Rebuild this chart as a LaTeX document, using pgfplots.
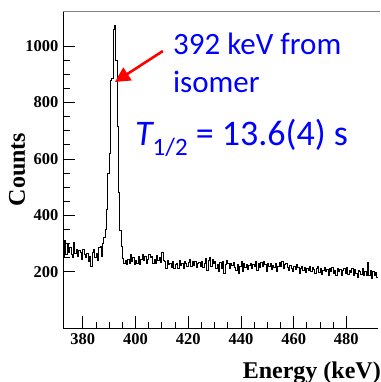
\documentclass[border=0pt]{standalone}
\usepackage{fontspec}
\setmainfont{Liberation Serif}
\newfontfamily\carlito{Carlito}
\usepackage{pgfplots}
\pgfplotsset{compat=1.18}
\usetikzlibrary{arrows.meta}
\definecolor{annblue}{RGB}{0,0,255}
\begin{document}
\begin{tikzpicture}
\begin{axis}[
  scale only axis,
  width=315pt, height=317pt,
  xmin=372.5, xmax=492, ymin=0, ymax=1125,
  axis x line*=bottom, axis y line*=left,
  axis line style={line width=0.9pt, -},
  tick align=inside,
  xtick={380,400,...,480}, ytick={200,400,...,1000},
  minor x tick num=3, minor y tick num=3,
  major tick length=12pt, minor tick length=6.5pt,
  every tick/.style={black, line width=0.8pt},
  /pgf/number format/assume math mode=true,
  /pgf/number format/1000 sep={},
  tick label style={font=\fontsize{16.5}{18}\selectfont\bfseries},
  xticklabel style={yshift=-2pt},
  yticklabel style={xshift=-1pt},
  clip=false,
]
\addplot[const plot mark left, black, line width=0.8pt] coordinates {
(372.5,250)(373,310)(373.5,260)(374,295)(374.5,270)(375,285)(375.5,260)(376,250)(376.5,305)(377,265)
(377.5,280)(378,255)(378.5,275)(379,270)(379.5,245)(380,280)(380.5,260)(381,250)(381.5,265)(382,235)
(382.5,255)(383,220)(383.5,270)(384,280)(384.5,250)(385,265)(385.5,240)(386,285)(386.5,290)(387,255)
(387.5,300)(388,320)(388.5,350)(389,420)(389.5,550)(390,620)(390.5,880)(391,885)(391.5,1060)(392,1074)
(392.5,950)(393,716)(393.5,482)(394,347)(394.5,288)(395,248)(395.5,230)(396,240)(396.5,225)(397,245)
(397.5,230)(398,260)(398.5,235)(399,250)(399.5,225)(400,240)(400.5,228)(401,255)(401.5,225)(402,245)
(402.5,262)(403,240)(403.5,255)(404,230)(404.5,245)(405,260)(405.5,250)(406,255)(406.5,228)(407,245)
(407.5,230)(408,258)(408.5,240)(409,250)(409.5,232)(410,268)(410.5,240)(411,235)(411.5,210)(412,240)
(412.5,225)(413,230)(413.5,215)(414,235)(414.5,212)(415,225)(415.5,230)(416,210)(416.5,240)(417,222)
(417.5,230)(418,212)(418.5,235)(419,228)(419.5,220)(420,232)(420.5,245)(421,218)(421.5,235)(422,222)
(422.5,238)(423,215)(423.5,228)(424,232)(424.5,220)(425,236)(425.5,215)(426,230)(426.5,248)(427,205)
(427.5,240)(428,250)(428.5,220)(429,245)(429.5,228)(430,238)(430.5,210)(431,225)(431.5,200)(432,232)
(432.5,210)(433,235)(433.5,195)(434,225)(434.5,240)(435,230)(435.5,212)(436,228)(436.5,222)(437,232)
(437.5,215)(438,205)(438.5,225)(439,195)(439.5,220)(440,235)(440.5,200)(441,230)(441.5,215)(442,225)
(442.5,208)(443,222)(443.5,230)(444,212)(444.5,225)(445,218)(445.5,235)(446,205)(446.5,228)(447,215)
(447.5,232)(448,220)(448.5,235)(449,225)(449.5,200)(450,228)(450.5,218)(451,230)(451.5,208)(452,222)
(452.5,215)(453,228)(453.5,200)(454,220)(454.5,232)(455,218)(455.5,235)(456,210)(456.5,225)(457,230)
(457.5,215)(458,205)(458.5,222)(459,212)(459.5,200)(460,218)(460.5,208)(461,225)(461.5,215)(462,195)
(462.5,210)(463,218)(463.5,205)(464,215)(464.5,198)(465,212)(465.5,205)(466,220)(466.5,200)(467,215)
(467.5,208)(468,195)(468.5,210)(469,218)(469.5,198)(470,212)(470.5,190)(471,205)(471.5,215)(472,200)
(472.5,208)(473,185)(473.5,210)(474,200)(474.5,215)(475,195)(475.5,205)(476,188)(476.5,212)(477,200)
(477.5,208)(478,185)(478.5,205)(479,210)(479.5,195)(480,215)(480.5,190)(481,205)(481.5,198)(482,212)
(482.5,185)(483,208)(483.5,195)(484,180)(484.5,205)(485,200)(485.5,190)(486,210)(486.5,185)(487,200)
(487.5,188)(488,232)(488.5,185)(489,205)(489.5,175)(490,200)(490.5,185)(491,198)(491.5,180)(492,180)
};
\coordinate (sw) at (rel axis cs:0,0);
\coordinate (ne) at (rel axis cs:1,1);
\draw[gray, line width=0.9pt] (rel axis cs:0,1) -- ([xshift=2pt]rel axis cs:1,1);
\node[anchor=base west, inner sep=0pt, text=annblue, font=\carlito\fontsize{31}{36}\selectfont] at (axis cs:414.2,969) {392 keV from};
\node[anchor=base west, inner sep=0pt, text=annblue, font=\carlito\fontsize{31}{36}\selectfont] at (axis cs:414.2,834) {isomer};
\node[anchor=base west, inner sep=0pt, text=annblue, font=\carlito\fontsize{36}{40}\selectfont] at (axis cs:399.8,649) {\itshape T\upshape\raisebox{-0.28em}{\fontsize{25}{28}\selectfont 1/2} = 13.6(4) s};
\draw[red, line width=2.6pt, -{Triangle[length=15pt,width=15pt]}] (axis cs:410.4,983) -- (axis cs:392.2,873);
\end{axis}
\path (sw) -- (ne) coordinate[pos=0.5] (mid);
\node[rotate=90, anchor=base, inner sep=0pt, font=\fontsize{24}{28}\selectfont\bfseries] at ([xshift=-38pt]sw |- mid) {Counts};
\node[anchor=base east, inner sep=0pt, font=\fontsize{24}{28}\selectfont\bfseries] at ([xshift=3pt,yshift=-50pt]sw -| ne) {Energy (keV)};
\pgfresetboundingbox
\useasboundingbox ([xshift=-63pt,yshift=-54pt]sw) rectangle ([xshift=2pt,yshift=11pt]ne);
\end{tikzpicture}
\end{document}
